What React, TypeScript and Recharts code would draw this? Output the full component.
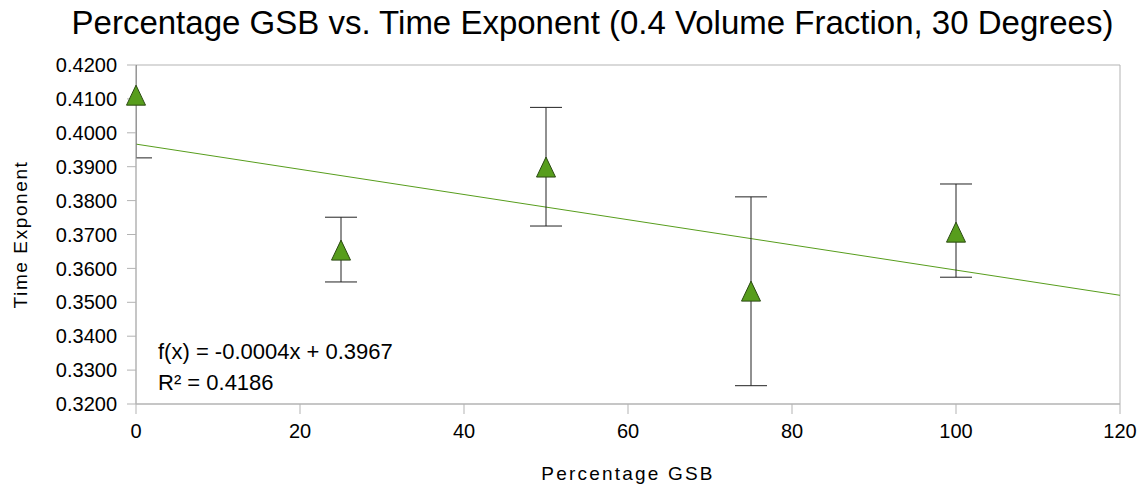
import React from 'react';
import {
  ScatterChart,
  Scatter,
  XAxis,
  YAxis,
  ErrorBar,
  ReferenceLine,
  ReferenceArea,
} from 'recharts';

// Measured time exponents per GSB percentage, with error bar extents
const GSB_PERCENT = [0, 25, 50, 75, 100];
const TIME_EXPONENT = [0.4111, 0.3654, 0.3899, 0.3533, 0.3707];
const ERR_LOW = [0.0185, 0.0094, 0.0174, 0.0279, 0.0133];
const ERR_HIGH = [0.0185, 0.0097, 0.0176, 0.0278, 0.0142];

const X_TICKS = [0, 20, 40, 60, 80, 100, 120];
const Y_TICKS = [0.32, 0.33, 0.34, 0.35, 0.36, 0.37, 0.38, 0.39, 0.4, 0.41, 0.42];

const TITLE = 'Percentage GSB vs. Time Exponent (0.4 Volume Fraction, 30 Degrees)';
const TREND_EQUATION = 'f(x) = -0.0004x + 0.3967';
const TREND_R2 = 'R² = 0.4186';

const FONT = '"Liberation Sans", Arial, sans-serif';
const GREEN = '#579d1c';
const AXIS_GRAY = '#b3b3b3';

const WIDTH = 1141;
const HEIGHT = 486;
const MARGIN = { top: 65, right: 21, left: 0, bottom: 0 };
const Y_AXIS_W = 136;
const X_AXIS_H = 82;

const points = GSB_PERCENT.map((x, i) => ({
  x,
  y: TIME_EXPONENT[i],
  err: [ERR_LOW[i], ERR_HIGH[i]],
}));

// least-squares linear trend through the points
const fitLine = () => {
  const n = GSB_PERCENT.length;
  const mx = GSB_PERCENT.reduce((a, b) => a + b, 0) / n;
  const my = TIME_EXPONENT.reduce((a, b) => a + b, 0) / n;
  let sxy = 0;
  let sxx = 0;
  GSB_PERCENT.forEach((x, i) => {
    sxy += (x - mx) * (TIME_EXPONENT[i] - my);
    sxx += (x - mx) * (x - mx);
  });
  const slope = sxy / sxx;
  return { slope, intercept: my - slope * mx };
};

const { slope, intercept } = fitLine();

const Triangle = ({ cx, cy }: any) => {
  if (cx == null || cy == null) return null;
  const w = 9.5;
  const h = 10;
  return (
    <polygon
      points={`${cx},${cy - h} ${cx - w},${cy + h} ${cx + w},${cy + h}`}
      fill={GREEN}
      stroke="#2b4a12"
      strokeWidth={1}
    />
  );
};

const tickStyle = { fill: '#000', fontSize: 20, fontFamily: FONT };
const axisTitleStyle = { fill: '#000', fontSize: 19, fontFamily: FONT, letterSpacing: 2.2 };

// error bars that run past the axis range get cut at the plot edge
const plotClip = {
  x: MARGIN.left + Y_AXIS_W,
  y: MARGIN.top,
  width: WIDTH - MARGIN.left - MARGIN.right - Y_AXIS_W,
  height: HEIGHT - MARGIN.top - MARGIN.bottom - X_AXIS_H,
};

const noteStyle: React.CSSProperties = {
  position: 'absolute',
  left: 158,
  fontFamily: FONT,
  fontSize: 22,
  lineHeight: '22px',
  whiteSpace: 'nowrap',
};

export default function App() {
  return (
    <div style={{ position: 'absolute', left: 0, top: 0, width: WIDTH, height: HEIGHT, background: '#fff' }}>
      <style>{'.recharts-errorBars { clip-path: url(#gsb-plot-clip); }'}</style>
      <svg width={0} height={0} style={{ position: 'absolute' }}>
        <defs>
          <clipPath id="gsb-plot-clip">
            <rect {...plotClip} />
          </clipPath>
        </defs>
      </svg>
      <div
        style={{
          position: 'absolute',
          left: 22,
          top: 6,
          width: WIDTH,
          textAlign: 'center',
          fontFamily: FONT,
          fontSize: 33,
          lineHeight: '33px',
          color: '#000',
          whiteSpace: 'nowrap',
        }}
      >
        {TITLE}
      </div>
      <ScatterChart width={WIDTH} height={HEIGHT} margin={MARGIN}>
        <XAxis
          type="number"
          dataKey="x"
          domain={[0, 120]}
          ticks={X_TICKS}
          height={X_AXIS_H}
          stroke={AXIS_GRAY}
          tickSize={10}
          tickMargin={10}
          tick={tickStyle}
          label={{
            value: 'Percentage GSB',
            position: 'insideBottom',
            offset: 6,
            style: axisTitleStyle,
          }}
        />
        <YAxis
          type="number"
          dataKey="y"
          domain={[0.32, 0.42]}
          ticks={Y_TICKS}
          allowDataOverflow
          width={Y_AXIS_W}
          stroke={AXIS_GRAY}
          tickSize={9}
          tickMargin={10}
          tick={tickStyle}
          tickFormatter={(v: number) => v.toFixed(4)}
          label={{
            value: 'Time Exponent',
            angle: -90,
            position: 'insideLeft',
            offset: 20,
            style: { ...axisTitleStyle, letterSpacing: 1.6, textAnchor: 'middle' },
          }}
        />
        <ReferenceArea x1={0} x2={120} y1={0.32} y2={0.42} fill="none" stroke={AXIS_GRAY} />
        <ReferenceLine
          segment={[
            { x: 0, y: intercept },
            { x: 120, y: intercept + slope * 120 },
          ]}
          stroke={GREEN}
          strokeWidth={1}
        />
        <Scatter data={points} shape={<Triangle />} isAnimationActive={false}>
          <ErrorBar dataKey="err" direction="y" width={16} stroke="#222" strokeWidth={1} />
        </Scatter>
      </ScatterChart>
      <div style={{ ...noteStyle, top: 341 }}>{TREND_EQUATION}</div>
      <div style={{ ...noteStyle, top: 372 }}>{TREND_R2}</div>
    </div>
  );
}
